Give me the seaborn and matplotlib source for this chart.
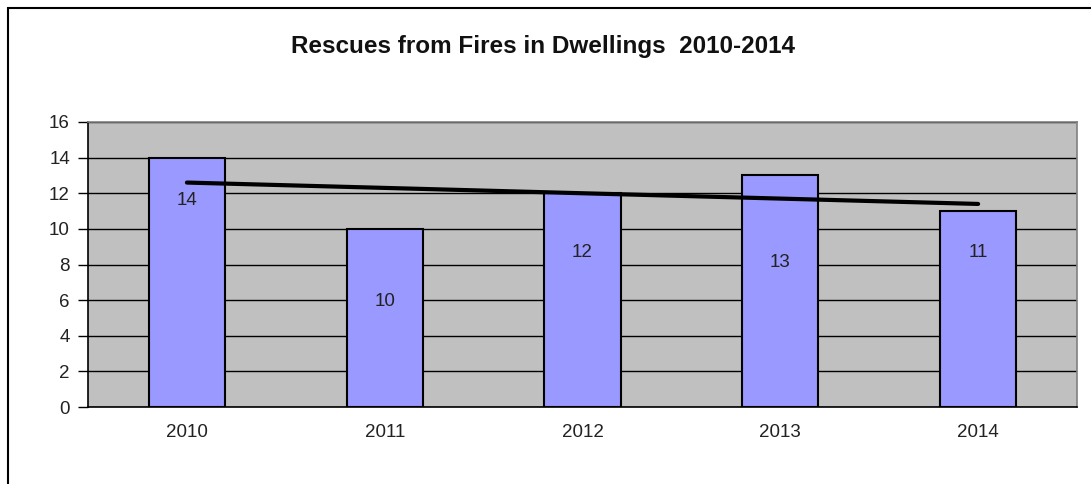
import matplotlib
matplotlib.use("Agg")
import matplotlib.pyplot as plt
import numpy as np
import pandas as pd
import seaborn as sns
from matplotlib.patches import Rectangle

years = ["2010", "2011", "2012", "2013", "2014"]
rescues = [14, 10, 12, 13, 11]
label_heights = [11.6, 5.9, 8.65, 8.1, 8.65]

df = pd.DataFrame({"Year": years, "Rescues": rescues, "pos": np.arange(len(years))})

sns.set_style("white")
plt.rcParams["font.family"] = ["Liberation Sans", "DejaVu Sans"]

fig = plt.figure(figsize=(10.91, 4.84), dpi=100)
ax = fig.add_axes([88 / 1091, 1 - 407 / 484, (1077 - 88) / 1091, (407 - 122) / 484])
ax.set_facecolor("#C0C0C0")

# outer chart border (cut off at right and bottom)
fig.patches.append(Rectangle((8 / 1091, -0.1), 1.2, (484 - 8) / 484 + 0.1,
                             transform=fig.transFigure, fill=False,
                             edgecolor="black", linewidth=1.5, zorder=0))

sns.barplot(data=df, x="Year", y="Rescues", color="#9999FF", saturation=1,
            edgecolor="black", linewidth=1.5, width=0.385, ax=ax, zorder=3)

# linear trend line
sns.regplot(data=df, x="pos", y="Rescues", scatter=False, ci=None, truncate=True,
            line_kws={"color": "black", "linewidth": 3, "zorder": 5}, ax=ax)

for i, (v, h) in enumerate(zip(rescues, label_heights)):
    ax.text(i, h, str(v), ha="center", va="center", fontsize=13.5, color="#222222", zorder=6)

ax.set_ylim(0, 16)
ax.set_xlim(-0.5, 4.5)
ax.set_yticks(range(0, 17, 2))
ax.yaxis.grid(True, color="black", linewidth=1)
ax.set_axisbelow(True)
ax.set_xticks(range(len(years)))
ax.set_xticklabels(years)
ax.set_xticks(np.arange(-0.5, 5, 1), minor=True)
ax.tick_params(axis="x", which="major", length=0, pad=12, labelsize=13.5, labelcolor="#222222")
ax.tick_params(axis="x", which="minor", length=6, width=1, color="black", direction="out")
ax.tick_params(axis="y", length=7, width=1, color="black", direction="out", pad=6,
               labelsize=13.5, labelcolor="#222222", left=True)
ax.set_xlabel("")
ax.set_ylabel("")
for s in ["left", "bottom"]:
    ax.spines[s].set_color("black")
    ax.spines[s].set_linewidth(1.2)
for s in ["top", "right"]:
    ax.spines[s].set_color("#808080")
    ax.spines[s].set_linewidth(1.2)

fig.text(543 / 1091, 1 - 47 / 484, "Rescues from Fires in Dwellings  2010-2014",
         ha="center", va="center", fontsize=17.5, fontweight="bold", color="#111111")

fig.savefig("out.png", dpi=100)
